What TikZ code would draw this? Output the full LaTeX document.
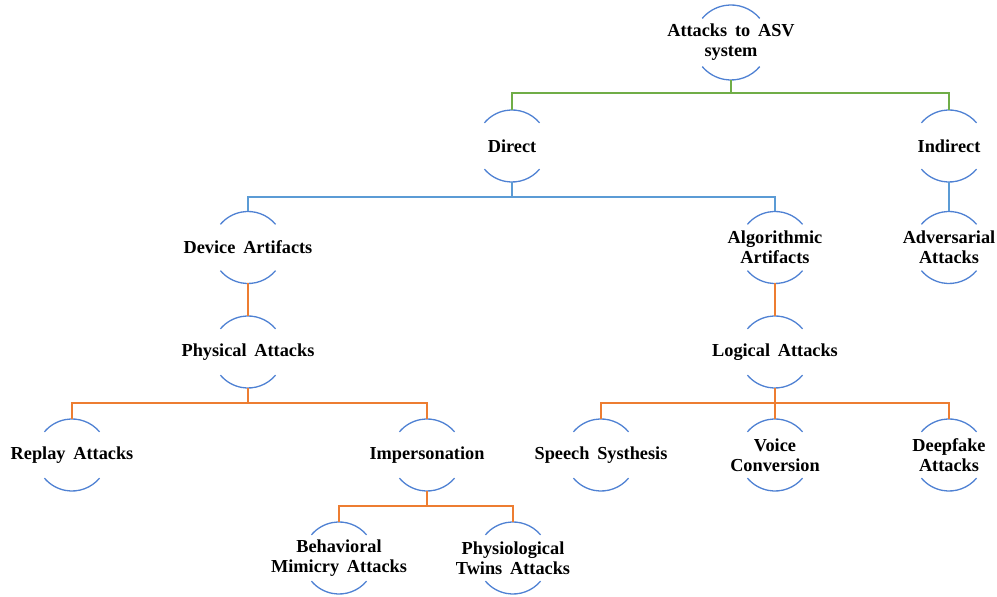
\documentclass[tikz,border=0pt]{standalone}
\usepackage{fontspec}
\setmainfont{Liberation Serif}[WordSpace=1.7]
\definecolor{lgreen}{RGB}{112,173,71}
\definecolor{lblue}{RGB}{91,155,213}
\definecolor{lorange}{RGB}{237,125,49}
\definecolor{arcblue}{RGB}{79,129,211}
\begin{document}
\begin{tikzpicture}[x=1pt,y=1pt,
  cnode/.style={inner sep=0pt, align=center, font=\fontsize{18.3}{20}\selectfont\bfseries},
  arcline/.style={draw=arcblue, line width=1.3pt},
  gline/.style={draw=lgreen, line width=1.6pt},
  bline/.style={draw=lblue, line width=1.6pt},
  oline/.style={draw=lorange, line width=1.6pt}]
\useasboundingbox (0,0) rectangle (997,597);
% nodes (y measured upward: 597 - image y)
\node[cnode] (root)   at (731,554.5) {Attacks to ASV\\system};
\node[cnode] (direct) at (512,451) {Direct};
\node[cnode] (indir)  at (949,451) {Indirect};
\node[cnode] (device) at (248,349.5) {Device Artifacts};
\node[cnode] (algo)   at (775,349.5) {Algorithmic\\Artifacts};
\node[cnode] (adv)    at (949,349.5) {Adversarial\\Attacks};
\node[cnode] (phys)   at (248,245) {Physical Attacks};
\node[cnode] (logic)  at (775,245) {Logical Attacks};
\node[cnode] (replay) at (72,142) {Replay Attacks};
\node[cnode] (imper)  at (427,142) {Impersonation};
\node[cnode] (speech) at (601,142) {Speech Systhesis};
\node[cnode] (voice)  at (775,142) {Voice\\Conversion};
\node[cnode] (deep)   at (949,142) {Deepfake\\Attacks};
\node[cnode] (behav)  at (339,39) {Behavioral\\Mimicry Attacks};
\node[cnode] (physio) at (513,39) {Physiological\\Twins Attacks};
% arcs and anchor points
\foreach \n/\r in {root/37.5,direct/36,indir/36,device/36,algo/36,adv/36,phys/36,logic/36,replay/36,imper/36,speech/36,voice/36,deep/36,behav/36,physio/36}{
  \draw[arcline] ([shift={(40:\r)}]\n.center) arc[start angle=40,end angle=140,radius=\r];
  \draw[arcline] ([shift={(-40:\r)}]\n.center) arc[start angle=-40,end angle=-140,radius=\r];
  \coordinate (\n-t) at ([yshift=\r]\n.center);
  \coordinate (\n-b) at ([yshift=-\r]\n.center);
}
% connectors
\foreach \c in {direct,indir}{\draw[gline] (root-b) -- ([yshift=-13]root-b) -| (\c-t);}
\foreach \c in {device,algo}{\draw[bline] (direct-b) -- ([yshift=-15]direct-b) -| (\c-t);}
\draw[bline] (indir-b) -- (adv-t);
\draw[oline] (device-b) -- (phys-t);
\draw[oline] (algo-b) -- (logic-t);
\foreach \c in {replay,imper}{\draw[oline] (phys-b) -- ([yshift=-15]phys-b) -| (\c-t);}
\foreach \c in {speech,voice,deep}{\draw[oline] (logic-b) -- ([yshift=-15]logic-b) -| (\c-t);}
\foreach \c in {behav,physio}{\draw[oline] (imper-b) -- ([yshift=-15]imper-b) -| (\c-t);}
\end{tikzpicture}
\end{document}
